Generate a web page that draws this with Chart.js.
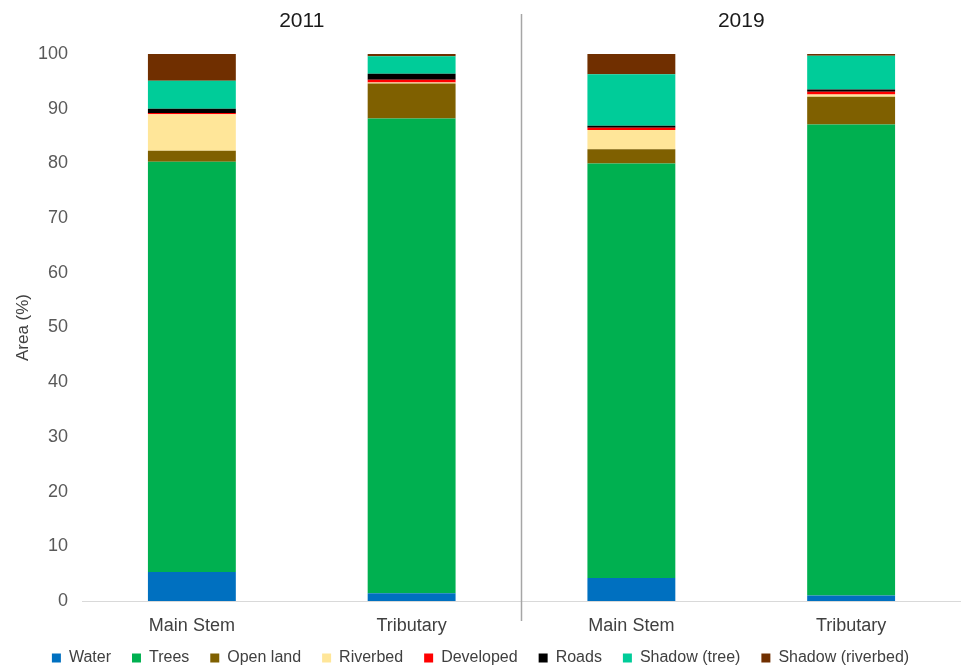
<!DOCTYPE html>
<html>
<head>
<meta charset="utf-8">
<script src="https://cdn.jsdelivr.net/npm/chart.js@4/dist/chart.umd.min.js"></script>
<style>
html,body{margin:0;padding:0;background:#fff;}
#wrap{width:961px;height:669px;position:relative;}
</style>
</head>
<body>
<div id="wrap"><canvas id="c" width="961" height="669"></canvas></div>
<script>
const categories = ["Main Stem", "Tributary", "Main Stem", "Tributary"];
const groupTitles = ["2011", "2019"];
const yTicks = [0, 10, 20, 30, 40, 50, 60, 70, 80, 90, 100];

const water          = [5.3, 1.4, 4.2, 1.0];
const trees          = [75.0, 86.8, 75.8, 86.1];
const openLand       = [2.0, 6.4, 2.6, 5.1];
const riverbed       = [6.7, 0.2, 3.5, 0.4];
const developed      = [0.2, 0.5, 0.4, 0.5];
const roads          = [0.8, 1.1, 0.4, 0.4];
const shadowTree     = [5.1, 3.2, 9.4, 6.2];
const shadowRiverbed = [4.9, 0.4, 3.7, 0.3];

const seriesNames = ["Water", "Trees", "Open land", "Riverbed", "Developed", "Roads", "Shadow (tree)", "Shadow (riverbed)"];
const seriesData = [water, trees, openLand, riverbed, developed, roads, shadowTree, shadowRiverbed];
const seriesColors = ["#0070C0", "#00B050", "#7F6000", "#FFE699", "#FF0000", "#000000", "#00CC99", "#702F00"];

const FONT = "'Liberation Sans', Arial, sans-serif";

const datasets = seriesNames.map((n, i) => ({
  label: n,
  data: seriesData[i],
  backgroundColor: seriesColors[i],
  borderWidth: 0,
  stack: "s",
  categoryPercentage: 1.0,
  barPercentage: 0.4
}));

const decor = {
  id: "decor",
  beforeDraw(chart) {
    const lg = chart.legend;
    if (lg) {
      const h = lg.bottom - lg.top;
      lg.top = 629;
      lg.bottom = 629 + h;
    }
  },
  afterDraw(chart) {
    const ctx = chart.ctx;
    const xs = chart.scales.x;
    const p = i => xs.getPixelForValue(i);
    ctx.save();
    const mid = (p(1) + p(2)) / 2;
    ctx.strokeStyle = "#a6a6a6";
    ctx.lineWidth = 1.5;
    ctx.beginPath();
    ctx.moveTo(mid, 14);
    ctx.lineTo(mid, 621);
    ctx.stroke();
    ctx.fillStyle = "#1a1a1a";
    ctx.font = "21px " + FONT;
    ctx.textAlign = "center";
    ctx.textBaseline = "middle";
    ctx.fillText(groupTitles[0], (p(0) + p(1)) / 2, 21);
    ctx.fillText(groupTitles[1], (p(2) + p(3)) / 2, 21);
    ctx.restore();
  }
};

new Chart(document.getElementById("c"), {
  type: "bar",
  data: { labels: categories, datasets },
  plugins: [decor],
  options: {
    responsive: false,
    animation: false,
    layout: { padding: { top: 54, right: 0, left: 0, bottom: -19 } },
    plugins: {
      tooltip: { enabled: false },
      legend: {
        position: "bottom",
        labels: {
          font: { family: FONT, size: 16 },
          color: "#404040",
          boxWidth: 9,
          boxHeight: 9,
          padding: 21
        }
      }
    },
    scales: {
      x: {
        stacked: true,
        grid: { display: false, drawTicks: false },
        border: { display: true, color: "#d9d9d9", width: 1 },
        ticks: { font: { family: FONT, size: 18 }, color: "#404040", padding: 14 },
        afterFit(s) { s.height = 40; }
      },
      y: {
        stacked: true,
        min: 0,
        max: 100,
        afterBuildTicks(s) { s.ticks = yTicks.map(v => ({ value: v })); },
        grid: { display: false, drawTicks: false },
        border: { display: false },
        ticks: { font: { family: FONT, size: 18 }, color: "#595959", padding: 14 },
        title: {
          display: true,
          text: "Area (%)",
          font: { family: FONT, size: 17 },
          color: "#404040",
          padding: { top: 13, bottom: 0 }
        },
        afterFit(s) { s.width = 82; }
      }
    }
  }
});
</script>
</body>
</html>
